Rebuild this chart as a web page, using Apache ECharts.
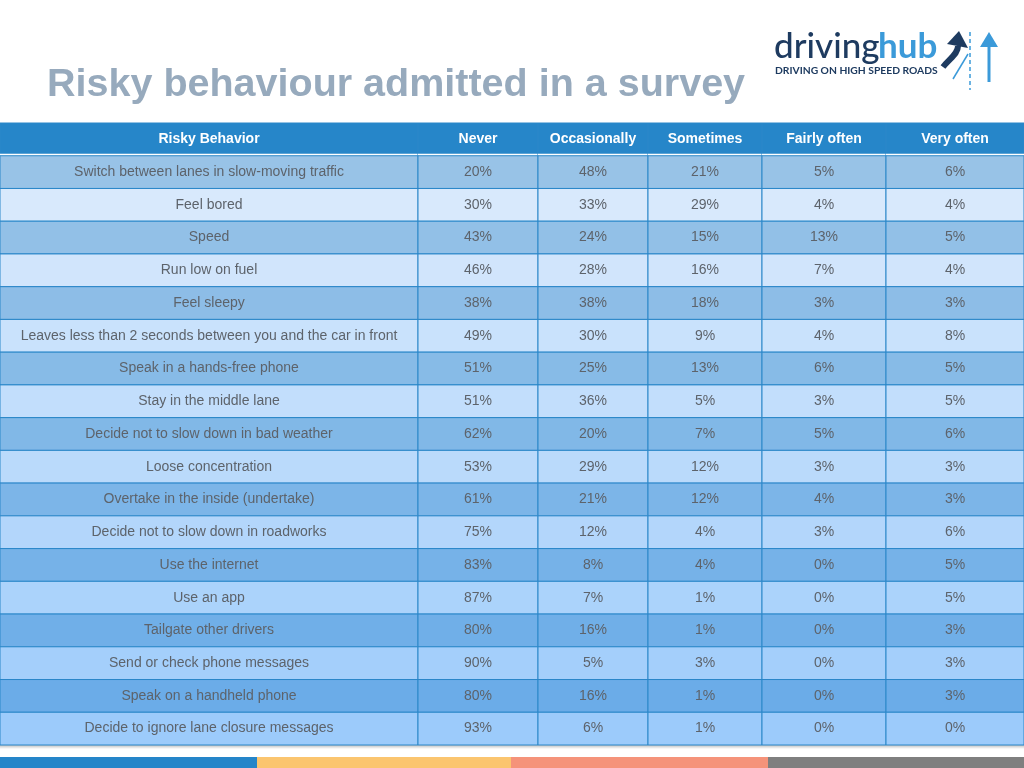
<!DOCTYPE html>
<html>
<head>
<meta charset="utf-8">
<script src="https://cdn.jsdelivr.net/npm/echarts@6/dist/echarts.min.js"></script>
<style>html,body{margin:0;padding:0;background:#fff;}#main{width:1024px;height:768px;}</style>
</head>
<body>
<div id="main"></div>
<script>
// ---- data ----
const columns = ['Risky Behavior', 'Never', 'Occasionally', 'Sometimes', 'Fairly often', 'Very often'];
const behaviors = [
  'Switch between lanes in slow-moving traffic',
  'Feel bored',
  'Speed',
  'Run low on fuel',
  'Feel sleepy',
  'Leaves less than 2 seconds between you and the car in front',
  'Speak in a hands-free phone',
  'Stay in the middle lane',
  'Decide not to slow down in bad weather',
  'Loose concentration',
  'Overtake in the inside (undertake)',
  'Decide not to slow down in roadworks',
  'Use the internet',
  'Use an app',
  'Tailgate other drivers',
  'Send or check phone messages',
  'Speak on a handheld phone',
  'Decide to ignore lane closure messages'
];
const never        = [20, 30, 43, 46, 38, 49, 51, 51, 62, 53, 61, 75, 83, 87, 80, 90, 80, 93];
const occasionally = [48, 33, 24, 28, 38, 30, 25, 36, 20, 29, 21, 12,  8,  7, 16,  5, 16,  6];
const sometimes    = [21, 29, 15, 16, 18,  9, 13,  5,  7, 12, 12,  4,  4,  1,  1,  3,  1,  1];
const fairlyOften  = [ 5,  4, 13,  7,  3,  4,  6,  3,  5,  3,  4,  3,  0,  0,  0,  0,  0,  0];
const veryOften    = [ 6,  4,  5,  4,  3,  8,  5,  5,  6,  3,  3,  6,  5,  5,  3,  3,  3,  0];

// ---- layout (style, not data) ----
const COL_EDGES = [0, 418, 538, 648, 762, 886, 1024];
const valueCols = [never, occasionally, sometimes, fairlyOften, veryOften];

const rowKeys = ['header'].concat(behaviors);
const cells = [];
for (let r = 0; r < rowKeys.length; r++) {
  for (let c = 0; c < columns.length; c++) {
    let txt;
    if (r === 0) txt = columns[c];
    else if (c === 0) txt = behaviors[r - 1];
    else txt = valueCols[c - 1][r - 1] + '%';
    cells.push([c, r, txt]);
  }
}

function hex(h){return [parseInt(h.slice(1,3),16),parseInt(h.slice(3,5),16),parseInt(h.slice(5,7),16)];}
function mix(a,b,t){const A=hex(a),B=hex(b);return 'rgb('+A.map((v,i)=>Math.round(v+(B[i]-v)*t)).join(',')+')';}
function rowColor(r){
  const n = behaviors.length;
  const t = (r - 1) / (n - 1);
  if (r % 2 === 1) return mix('#98c3e7', '#68abe8', t);
  return mix('#dcebfc', '#9ccbfb', t);
}

const chart = echarts.init(document.getElementById('main'), null, {renderer: 'canvas'});
const FONT = '"Liberation Sans", Arial, Helvetica, sans-serif';
const LOGO = 'Lato, "Open Sans", sans-serif';

chart.setOption({
  animation: false,
  grid: {left: 0, right: 0, top: 123, bottom: 23},
  xAxis: {type: 'value', min: 0, max: 1024, show: false},
  yAxis: {type: 'category', data: rowKeys, inverse: true, show: false},
  graphic: [
    {type: 'text', left: 47, top: 65, style: {text: 'Risky behaviour admitted in a survey', fill: '#97aabd', font: 'bold 39.5px ' + FONT}},
    // logo
    {type: 'text', left: 774, top: 29, style: {text: 'driving', fill: '#1e3b60', font: '500 35px ' + LOGO}},
    {type: 'text', left: 878, top: 29, style: {text: 'hub', fill: '#3b9ad9', font: 'bold 35px ' + LOGO}},
    {type: 'text', left: 775, top: 66, style: {text: 'DRIVING ON HIGH SPEED ROADS', fill: '#1e3b60', font: 'bold 10.3px ' + LOGO}},
    {type: 'bezierCurve', shape: {x1: 943, y1: 67, x2: 958, y2: 46, cpx1: 950, cpy1: 58, cpx2: 958, cpy2: 54}, style: {stroke: '#1e3b60', lineWidth: 6, fill: null}},
    {type: 'polygon', shape: {points: [[947,44],[959,31],[968,48]]}, style: {fill: '#1e3b60'}},
    {type: 'line', shape: {x1: 970, y1: 32, x2: 970, y2: 90}, style: {stroke: '#3b9ad9', lineWidth: 1.5, lineDash: [4, 3]}},
    {type: 'line', shape: {x1: 953, y1: 79, x2: 968, y2: 54}, style: {stroke: '#3b9ad9', lineWidth: 1.5}},
    {type: 'line', shape: {x1: 989, y1: 45, x2: 989, y2: 82}, style: {stroke: '#3b9ad9', lineWidth: 3}},
    {type: 'polygon', shape: {points: [[980,47],[989,32],[998,47]]}, style: {fill: '#3b9ad9'}},
    // table shadow
    {type: 'rect', shape: {x: 0, y: 745, width: 1024, height: 4}, style: {fill: new echarts.graphic.LinearGradient(0,0,0,1,[{offset:0,color:'rgba(0,0,0,0.25)'},{offset:1,color:'rgba(0,0,0,0)'}])}, z: 0},
    // bottom bar
    {type: 'rect', shape: {x: 0, y: 757, width: 257, height: 11}, style: {fill: '#2585c9'}},
    {type: 'rect', shape: {x: 257, y: 757, width: 254, height: 11}, style: {fill: '#fbc56f'}},
    {type: 'rect', shape: {x: 511, y: 757, width: 257, height: 11}, style: {fill: '#f5937a'}},
    {type: 'rect', shape: {x: 768, y: 757, width: 256, height: 11}, style: {fill: '#7f7f7f'}}
  ],
  series: [{
    type: 'custom',
    data: cells,
    encode: {x: 0, y: 1},
    renderItem: function (params, api) {
      const c = api.value(0), r = api.value(1);
      const txt = cells[params.dataIndex][2];
      const p0 = api.coord([COL_EDGES[c], r]);
      const p1 = api.coord([COL_EDGES[c + 1], r]);
      const h = api.size([0, 1])[1];
      const y0 = p0[1] - h / 2;
      const w = p1[0] - p0[0];
      const header = r === 0;
      const children = [{
        type: 'rect',
        shape: {x: p0[0], y: y0, width: w, height: h},
        style: {fill: header ? '#2686c9' : rowColor(r), stroke: '#2a87c9', lineWidth: 1}
      }, {
        type: 'text',
        x: p0[0] + w / 2, y: p0[1],
        style: {
          text: txt, align: 'center', verticalAlign: 'middle',
          fill: header ? '#ffffff' : '#5d636b',
          font: (header ? 'bold ' : '') + '14px ' + FONT
        }
      }];
      if (header) {
        children.push({type: 'rect', shape: {x: p0[0], y: y0 + h - 2, width: w, height: 3}, style: {fill: '#ffffff'}});
      }
      return {type: 'group', children: children};
    }
  }]
});
</script>
</body>
</html>
